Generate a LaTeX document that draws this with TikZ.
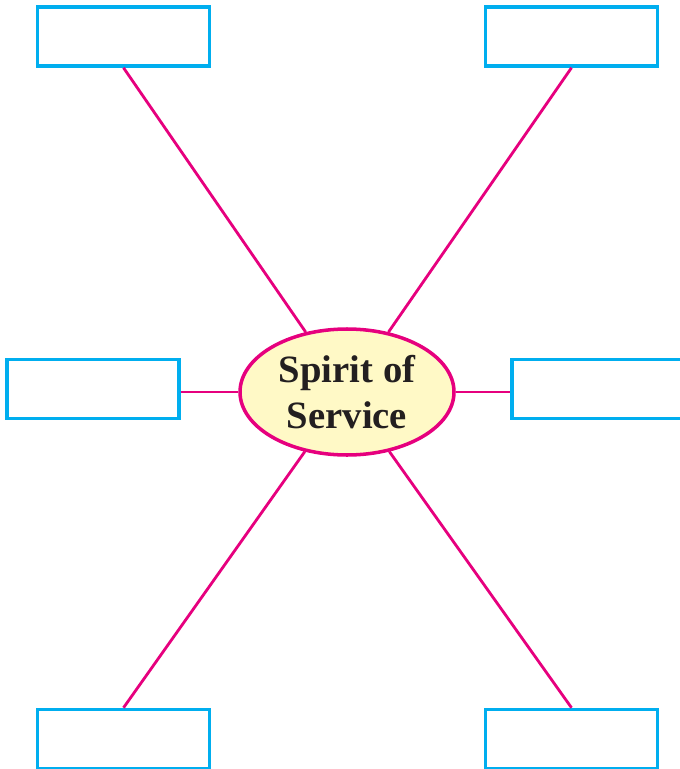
\documentclass[tikz,border=0pt]{standalone}
\usepackage{fontspec}
\setmainfont{Liberation Serif}
\usepackage{tikz}
\usetikzlibrary{shapes.geometric}
\definecolor{boxcyan}{HTML}{00AEEF}
\definecolor{linkpink}{HTML}{E6007E}
\definecolor{hubyellow}{HTML}{FFF9C6}
\definecolor{inkdark}{HTML}{231F20}

\begin{document}
\begin{tikzpicture}[
  x=0.2mm, y=-0.2mm,
  blank/.style={
    rectangle, draw=boxcyan, line width=2pt, fill=white,
    minimum width=3.44cm, minimum height=1.18cm, inner sep=0pt},
  hub/.style={
    ellipse, draw=linkpink, fill=hubyellow, line width=2pt,
    minimum width=4.28cm, minimum height=2.52cm, inner sep=0pt,
    align=center, text=inkdark,
    font=\bfseries\fontsize{22}{26}\selectfont},
  link/.style={linkpink, line width=1.6pt},
]
  \useasboundingbox (0,0) rectangle (679,769);

  \node[hub] (spirit) at (347,392) {Spirit of\\Service};

  \node[blank] (tl) at (123.5,36.5) {};
  \node[blank] (tr) at (571.5,36.5) {};
  \node[blank] (ml) at (93,389)     {};
  \node[blank] (mr) at (598,389)    {};
  \node[blank] (bl) at (123.5,739)  {};
  \node[blank] (br) at (571.5,739)  {};

  \draw[link] (tl.south) -- (spirit);
  \draw[link] (tr.south) -- (spirit);
  \draw[link] (bl.north) -- (spirit);
  \draw[link] (br.north) -- (spirit);
  \draw[link] (spirit.west) -- (spirit.west -| ml.east);
  \draw[link] (spirit.east) -- (spirit.east -| mr.west);
\end{tikzpicture}
\end{document}
